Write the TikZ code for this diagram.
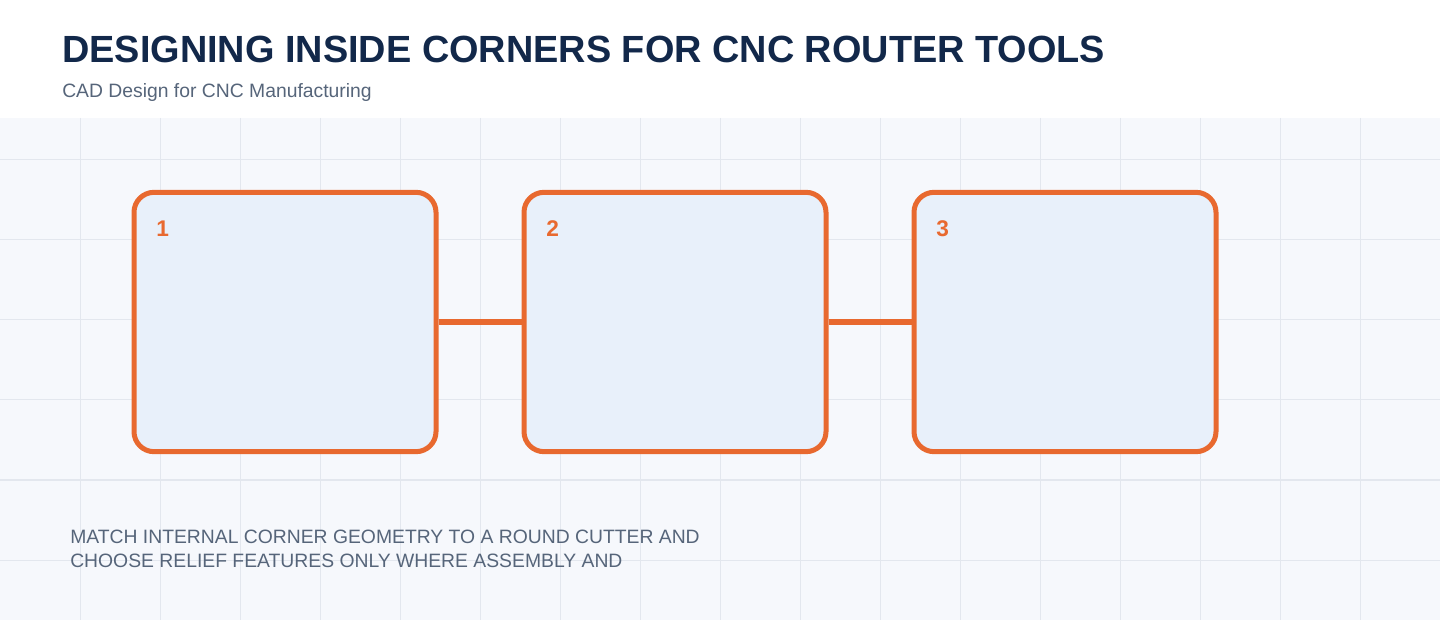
\documentclass[tikz,border=0pt]{standalone}
\usepackage{fontspec}
\setmainfont{Liberation Sans}
\usetikzlibrary{positioning}

\definecolor{cutorange}{HTML}{E8692F}
\definecolor{boxfill}{HTML}{E8F0FA}
\definecolor{paper}{HTML}{F6F8FC}
\definecolor{gridgray}{HTML}{E3E7EE}
\definecolor{titlenavy}{HTML}{12284A}
\definecolor{slate}{HTML}{56657A}

\tikzset{
  stagebox/.style={rectangle, draw=cutorange, fill=boxfill, line width=3.75pt,
    rounded corners=15pt, minimum width=226.5pt, minimum height=194.5pt},
  stagenum/.style={anchor=base west, inner sep=0pt, text=cutorange,
    font=\bfseries\fontsize{17}{20}\selectfont},
  link/.style={draw=cutorange, line width=4.5pt}
}

\begin{document}
\begin{tikzpicture}[x=0.75pt, y=-0.75pt]
  \useasboundingbox (0,0) rectangle (1440,620);
  \fill[white] (0,0) rectangle (1440,118);
  \fill[paper] (0,118) rectangle (1440,620);
  % grid
  \begin{scope}[gridgray, line width=0.75pt]
    \clip (0,118) rectangle (1440,620);
    \foreach \gx in {80,160,...,1360}
      \draw (\gx,118) -- (\gx,620);
    \foreach \gy in {160,240,...,560}
      \draw (0,\gy) -- (1440,\gy);
  \end{scope}
  % header
  \node (title) [anchor=base west, inner sep=0pt, text=titlenavy,
    font=\bfseries\fontsize{28.4}{34}\selectfont]
    at (62,63) {DESIGNING INSIDE CORNERS FOR CNC ROUTER TOOLS};
  \node (subtitle) [anchor=base west, inner sep=0pt, text=slate,
    font=\fontsize{14.5}{17}\selectfont]
    at (62,98) {CAD Design for CNC Manufacturing};
  % stages
  \node (b1) [stagebox] at (285,322) {};
  \node (b2) [stagebox] at (675,322) {};
  \node (b3) [stagebox] at (1065,322) {};
  \node (n1) [stagenum] at (156,237) {1};
  \node (n2) [stagenum] at (546,237) {2};
  \node (n3) [stagenum] at (936,237) {3};
  \path[link] (b1) -- (b2);
  \path[link] (b2) -- (b3);
  % note
  \node (note) [anchor=base west, inner sep=0pt, align=left, text=slate,
    font=\fontsize{14.5}{18}\selectfont]
    at (70,567) {MATCH INTERNAL CORNER GEOMETRY TO A ROUND CUTTER AND\\
                 CHOOSE RELIEF FEATURES ONLY WHERE ASSEMBLY AND};
\end{tikzpicture}
\end{document}
